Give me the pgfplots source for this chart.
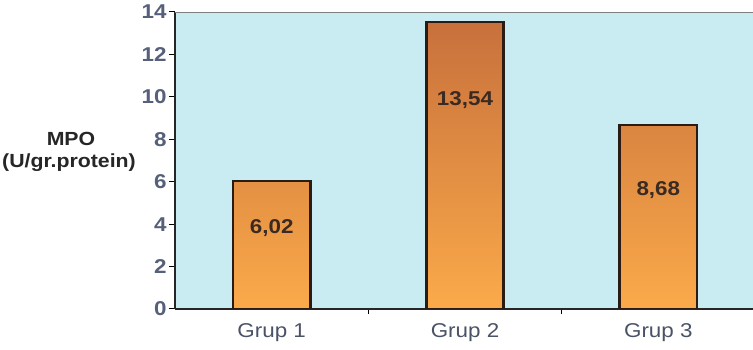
\documentclass[border=0pt]{standalone}
\usepackage{pgfplots}
\pgfplotsset{compat=1.18}
\usepackage{fontspec}
\setmainfont{Liberation Sans}[FakeStretch=1.12]
\usetikzlibrary{calc}
\definecolor{bgblue}{HTML}{C9ECF3}
\definecolor{tickcol}{HTML}{56607A}
\definecolor{catcol}{HTML}{4A5266}
\definecolor{bartop}{HTML}{C8703C}
\definecolor{barmid}{HTML}{F77A2E}
\definecolor{barbot}{HTML}{FBAA4A}
\definecolor{barline}{HTML}{2A1C14}
\definecolor{lblcol}{HTML}{3A2A22}
\begin{document}
\begin{tikzpicture}
\begin{axis}[name=ax, scale only axis, width=580pt, height=297pt,
  xmin=0.5, xmax=3.5, ymin=0, ymax=14,
  axis x line*=bottom, axis y line*=left,
  axis line style={line width=1.8pt, color=black!85},
  ytick={0,2,...,14},
  xtick={1,2,3}, xticklabels={Grup 1,Grup 2,Grup 3},
  minor xtick={1.5,2.5},
  major x tick style={draw=none},
  minor x tick style={draw=black, line width=1pt},
  minor tick length=5pt,
  tick align=outside,
  y tick style={line width=1pt, black},
  major tick length=6pt,
  /pgf/number format/assume math mode=true,
  yticklabel style={font=\fontsize{20}{20}\selectfont\bfseries, text=tickcol, xshift=1pt},
  xticklabel style={font=\fontsize{20}{20}\selectfont, text=catcol, yshift=-5pt},
  axis background/.style={fill=bgblue},
]
\addplot[ybar, bar width=0.4, draw=barline, line width=2.4pt,
  top color=bartop, middle color=barmid, bottom color=barbot]
  coordinates {(1,6.02) (2,13.54) (3,8.68)};
\draw[gray, line width=0.8pt] (rel axis cs:0,1) -- (rel axis cs:1,1);
\node[font=\fontsize{20}{20}\selectfont\bfseries, text=lblcol] at (axis cs:1,3.8) {6,02};
\node[font=\fontsize{20}{20}\selectfont\bfseries, text=lblcol] at (axis cs:2,9.85) {13,54};
\node[font=\fontsize{20}{20}\selectfont\bfseries, text=lblcol] at (axis cs:3,5.6) {8,68};
\end{axis}
\node[font=\fontsize{19}{19}\selectfont\bfseries, text=black!85] at ($(ax.south west)+(-104pt,170pt)$) {MPO};
\node[font=\fontsize{19}{19}\selectfont\bfseries, text=black!85, anchor=west, inner sep=0pt] at ($(ax.south west)+(-173pt,146pt)$) {(U/gr.protein)};
\pgfresetboundingbox
\path[use as bounding box] ($(ax.south west)+(-175pt,-41pt)$) rectangle ($(ax.north west)+(578pt,12pt)$);
\end{tikzpicture}
\end{document}
